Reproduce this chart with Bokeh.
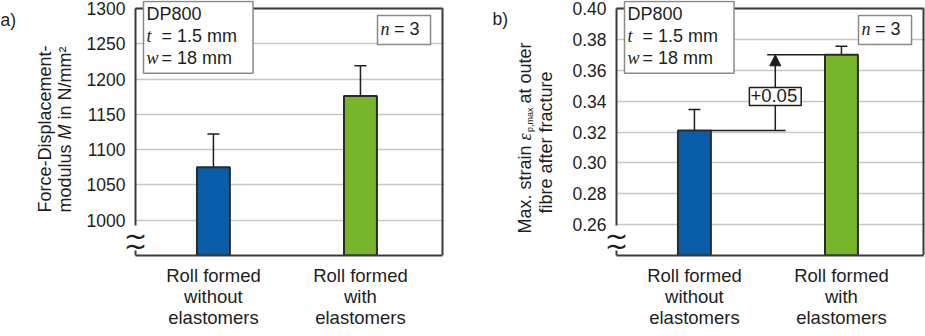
from bokeh.plotting import figure
from bokeh.models import (FixedTicker, Whisker, TeeHead, Label, Arrow, NormalHead,
                          ColumnDataSource, Range1d)
from bokeh.layouts import row
from bokeh.embed import file_html
from bokeh.resources import INLINE

# ---------------- data ----------------
categories = ["Roll formed\nwithout\nelastomers", "Roll formed\nwith\nelastomers"]
bar_colors = ["#0a5ea9", "#77b52b"]
modulus = [1075, 1176]
modulus_err = [47, 43]
modulus_ticks = [1000, 1050, 1100, 1150, 1200, 1250, 1300]
strain = [0.321, 0.370]
strain_err = [0.0135, 0.0055]
strain_ticks = [0.26, 0.28, 0.30, 0.32, 0.34, 0.36, 0.38, 0.40]

SANS = "Liberation Sans"
SERIF = "Liberation Serif"
INK = "#1e1e1e"
FRAME = "#3a3a3a"
H = 336
VIS_TOP, VIS_BOTTOM = 8, 255
VIS_H = VIS_BOTTOM - VIS_TOP
VIS_W = 307
PAD_L, PAD_R = 15, 2
X0, X1 = 0.47, 2.558
BAR_W = 0.224


def label_fig(win_left, width):
    f = figure(frame_width=width, frame_height=VIS_BOTTOM,
               x_range=Range1d(win_left, win_left + width),
               y_range=Range1d(VIS_BOTTOM, 0), x_axis_type=None, y_axis_type=None,
               min_border_left=0, min_border_right=0, min_border_top=0,
               min_border_bottom=H - VIS_BOTTOM,
               output_backend="svg", toolbar_location=None)
    f.outline_line_color = None
    f.background_fill_color = "white"
    f.border_fill_color = "white"
    return f


def add_text(p, x, y, text, **kw):
    opts = dict(text_font=SANS, text_font_size="17.5px", text_color=INK)
    opts.update(kw)
    p.add_layout(Label(x=x, y=y, text=text, **opts))


def panel(vals, errs, ylo, yhi, ticks, tick_labels, win_left, width, vis_left):
    k = VIS_W / (X1 - X0)
    ky = VIS_H / (yhi - ylo)
    frame_left = vis_left - PAD_L
    frame_w = VIS_W + PAD_L + PAD_R
    b_left = frame_left - win_left
    b_right = width - b_left - frame_w
    xs = [i + 1 for i in range(len(categories))]
    p = figure(frame_width=frame_w, frame_height=VIS_BOTTOM,
               x_range=Range1d(X0 - PAD_L / k, X1 + PAD_R / k),
               y_range=Range1d(ylo, yhi + VIS_TOP / ky),
               min_border_left=b_left, min_border_right=b_right,
               min_border_top=0, min_border_bottom=H - VIS_BOTTOM,
               output_backend="svg", toolbar_location=None)
    p.background_fill_color = "white"
    p.border_fill_color = "white"
    p.outline_line_color = None

    for ax in p.axis:
        ax.major_tick_line_color = None
        ax.minor_tick_line_color = None
        ax.major_tick_out = 0
        ax.major_tick_in = 0
        ax.major_label_text_font = SANS
        ax.major_label_text_color = INK
    p.yaxis.axis_line_color = None
    p.xaxis.axis_line_color = FRAME
    p.xaxis.axis_line_width = 2
    p.xaxis.bounds = (X0, X1)
    p.xaxis.ticker = FixedTicker(ticks=xs)
    p.xaxis.major_label_overrides = {x: c for x, c in zip(xs, categories)}
    p.xaxis.major_label_text_font_size = "18.5px"
    p.xaxis.major_label_text_line_height = 1.0
    p.xaxis.major_label_standoff = 9
    p.yaxis.ticker = FixedTicker(ticks=ticks)
    p.yaxis.major_label_overrides = {t: l for t, l in zip(ticks, tick_labels)}
    p.yaxis.major_label_text_font_size = "17.5px"
    p.yaxis.major_label_standoff = 10 - PAD_L

    p.xgrid.grid_line_color = None
    p.ygrid.ticker = FixedTicker(ticks=ticks)
    p.ygrid.grid_line_color = "#c6c6c6"
    p.ygrid.grid_line_width = 1.5

    def sx(px):
        return X0 + (px - vis_left) / k

    def sy(py):
        return yhi - (py - VIS_TOP) / ky

    # white strip left of the visible frame (hides grid there)
    p.quad(left=X0 - PAD_L / k, right=X0, bottom=ylo, top=yhi + VIS_TOP / ky,
           fill_color="white", line_color=None)

    src = ColumnDataSource(dict(
        x=xs, top=vals,
        upper=[v + e for v, e in zip(vals, errs)],
        lower=[v - e for v, e in zip(vals, errs)],
        color=bar_colors))
    p.vbar(x="x", top="top", bottom=ylo, width=BAR_W, fill_color="color",
           line_color="#2a2a2a", line_width=2, source=src)
    p.add_layout(Whisker(source=src, base="x", upper="upper", lower="lower",
                         line_color=INK, line_width=1.5,
                         upper_head=TeeHead(size=12, line_color=INK, line_width=1.5),
                         lower_head=TeeHead(size=12, line_color=INK, line_width=1.5)))

    # visible frame: left (with axis-break gap), top, right
    gap_lo, gap_hi = sy(250), sy(225)
    p.segment(x0=[X0, X0, X0, X1], y0=[ylo, gap_hi, yhi, ylo],
              x1=[X0, X0, X1, X1], y1=[gap_lo, yhi, yhi, yhi],
              line_color=FRAME, line_width=2)
    for wy in (236, 246):
        add_text(p, X0, sy(wy), "~", text_font="DejaVu Sans", text_font_size="28px",
                 text_align="center", text_baseline="middle")

    # info box
    bx = vis_left + 8
    box_pad = (3, 16, 2, 5)
    add_text(p, sx(bx), sy(1), "DP800\n\u2002\u2004= 1.5 mm\n\u2002\u2004= 18 mm",
             text_font_size="18px", text_line_height=1.12, text_align="left",
             text_baseline="top", background_fill_color="white",
             border_line_color="#8a8a8a", border_line_width=1.5, padding=box_pad)
    add_text(p, sx(bx), sy(1), "\u2002\nt\nw", text_font=SERIF, text_font_style="italic",
             text_font_size="18px", text_line_height=1.12, text_align="left",
             text_baseline="top", padding=box_pad)
    # n = 3 box
    nx = vis_left + VIS_W - 65
    n_pad = (3, 11, 3, 6)
    add_text(p, sx(nx), sy(15), "\u2002\u2005= 3", text_font_size="18px",
             text_align="left", text_baseline="top", background_fill_color="white",
             border_line_color="#8a8a8a", border_line_width=1.5, padding=n_pad)
    add_text(p, sx(nx), sy(15), "n", text_font=SERIF, text_font_style="italic",
             text_font_size="18px", text_align="left", text_baseline="top", padding=n_pad)
    return p, xs, sx, sy


rot = dict(angle=90, angle_units="deg", text_align="left", text_baseline="middle")

# ---------------- panel a ----------------
la = label_fig(0, 80)
add_text(la, 0, 19, "a)", text_align="left", text_baseline="alphabetic")
add_text(la, 44, 212, "Force-Displacement-", text_font_size="18px", **rot)
add_text(la, 64, 212, "modulus", text_font_size="18px", **rot)
add_text(la, 64, 139, "M", text_font_style="italic", text_font_size="18px", **rot)
add_text(la, 64, 119, "in N/mm\u00b2", text_font_size="18px", **rot)
pa, xs, sxa, sya = panel(modulus, modulus_err, 950, 1300, modulus_ticks,
                         [str(t) for t in modulus_ticks], 80, 382, 135)

# ---------------- panel b ----------------
lb = label_fig(462, 98)
add_text(lb, 492, 18, "b)", text_align="left", text_baseline="alphabetic")
add_text(lb, 524, 233, "Max. strain", text_font_size="18px", **rot)
add_text(lb, 524, 140, "\u03b5", text_font=SERIF, text_font_style="italic",
         text_font_size="18px", **rot)
add_text(lb, 529, 131.5, "p,max", text_font_size="9px", **rot)
add_text(lb, 524, 103, "at outer", text_font_size="18px", **rot)
add_text(lb, 545, 213, "fibre after fracture", text_font_size="18px", **rot)
pb, xs, sxb, syb = panel(strain, strain_err, 0.24, 0.40, strain_ticks,
                         [f"{t:.2f}" for t in strain_ticks], 560, 365, 616)

# difference annotation
xv = (xs[0] + xs[1]) / 2 + 0.05
pb.segment(x0=[xs[0] + BAR_W / 2, xv - 0.055], y0=[strain[0], strain[1]],
           x1=[xv + 0.07, xs[1] - BAR_W / 2], y1=[strain[0], strain[1]],
           line_color=INK, line_width=1.5)
pb.add_layout(Arrow(end=NormalHead(size=11, fill_color=INK, line_color=INK, line_width=1),
                    x_start=xv, y_start=strain[0], x_end=xv, y_end=strain[1],
                    line_color=INK, line_width=1.5))
add_text(pb, xv, syb(96), f"+{strain[1] - strain[0]:.2f}", text_font_size="18.5px",
         text_align="center", text_baseline="middle", background_fill_color="white",
         border_line_color=INK, border_line_width=1.5, padding=(1, 4, 1, 4))

layout = row(la, pa, lb, pb)
open("out.html", "w").write(file_html(layout, INLINE))
